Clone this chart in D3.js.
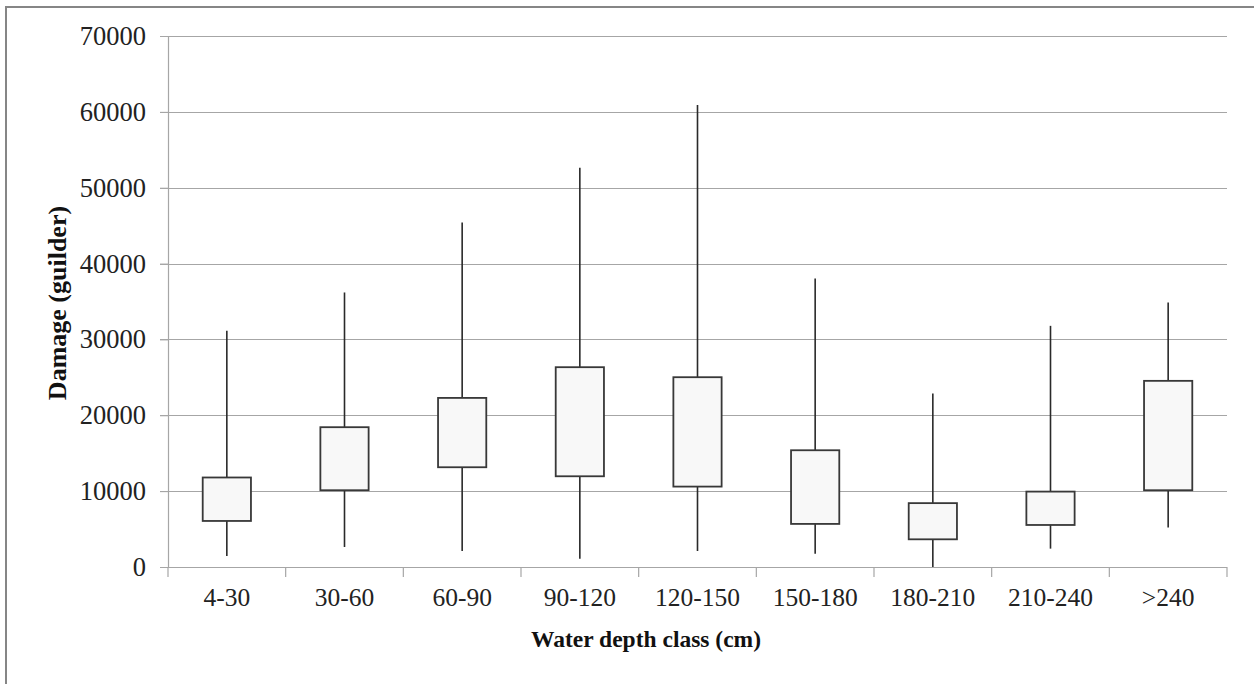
<!DOCTYPE html>
<html lang="en">
<head>
    <title>Damage by water depth class</title>
    <style>
        html, body {margin: 0;padding: 0;background-color: #fff;}
        svg {display: block;font-family: "Liberation Serif", "Times New Roman", serif;}
        .tick text {font-size: 26.5px;fill: #222;}
    </style>
</head>
<body>
<div id="chart"></div>
<script src="https://cdnjs.cloudflare.com/ajax/libs/d3/7.8.5/d3.min.js"></script>
<script>
  // depth classes and box statistics
  var categories = ['4-30', '30-60', '60-90', '90-120', '120-150', '150-180', '180-210', '210-240', '>240'];
  var whiskerLow = [1450, 2640, 2110, 1100, 2110, 1760, 0, 2420, 5200];
  var boxLow = [6070, 10120, 13150, 11960, 10600, 5680, 3650, 5540, 10120];
  var boxHigh = [11800, 18430, 22290, 26340, 25020, 15390, 8420, 9940, 24540];
  var whiskerHigh = [31130, 36190, 45400, 52630, 60900, 38040, 22870, 31790, 34880];
  var yTicks = [0, 10000, 20000, 30000, 40000, 50000, 60000, 70000];

  var width = 1254, height = 684;
  var margin = {top: 36, right: 27, bottom: 117, left: 168};

  var rows = categories.map(function (c, i) {
    return {cat: c, lo: whiskerLow[i], q1: boxLow[i], q3: boxHigh[i], hi: whiskerHigh[i]};
  });

  var svg = d3.select('#chart').append('svg')
    .attr('width', width)
    .attr('height', height);

  // outer frame, only its left and top edges fall inside the picture
  svg.append('rect')
    .attr('x', 6).attr('y', 7)
    .attr('width', 1400).attr('height', 800)
    .attr('fill', 'none')
    .attr('stroke', '#868686')
    .attr('stroke-width', 2);

  var x = d3.scaleBand()
    .domain(categories)
    .range([margin.left, width - margin.right]);

  var y = d3.scaleLinear()
    .domain([0, 70000])
    .range([height - margin.bottom, margin.top]);

  // gridlines
  svg.append('g')
    .selectAll('line')
    .data(yTicks)
    .join('line')
    .attr('x1', margin.left - 8)
    .attr('x2', width - margin.right)
    .attr('y1', function (d) { return Math.round(y(d)) + 0.5; })
    .attr('y2', function (d) { return Math.round(y(d)) + 0.5; })
    .attr('stroke', '#a6a6a6')
    .attr('stroke-width', 1.2);

  var yAxis = svg.append('g')
    .attr('transform', 'translate(' + margin.left + ',0)')
    .call(d3.axisLeft(y).tickValues(yTicks).tickFormat(d3.format('d')).tickSize(8).tickPadding(14));
  yAxis.attr('font-family', null).attr('font-size', null);
  yAxis.select('.domain').attr('stroke', '#a6a6a6').attr('stroke-width', 1.2);
  yAxis.selectAll('.tick line').attr('stroke', '#a6a6a6');

  // x axis: ticks sit on the category boundaries
  var bounds = categories.map(function (c) { return x(c); }).concat([width - margin.right]);
  svg.append('g')
    .selectAll('line')
    .data(bounds)
    .join('line')
    .attr('x1', function (d) { return d; })
    .attr('x2', function (d) { return d; })
    .attr('y1', y(0))
    .attr('y2', y(0) + 10)
    .attr('stroke', '#a6a6a6')
    .attr('stroke-width', 1.2);

  svg.append('g')
    .selectAll('text')
    .data(categories)
    .join('text')
    .attr('x', function (d) { return x(d) + x.bandwidth() / 2; })
    .attr('y', y(0) + 39)
    .attr('text-anchor', 'middle')
    .attr('font-size', 25.5)
    .attr('fill', '#222')
    .text(function (d) { return d; });

  // boxes
  var boxW = x.bandwidth() * 0.41;
  var g = svg.append('g');

  g.selectAll('line.whisker')
    .data(rows)
    .join('line')
    .attr('class', 'whisker')
    .attr('x1', function (d) { return x(d.cat) + x.bandwidth() / 2; })
    .attr('x2', function (d) { return x(d.cat) + x.bandwidth() / 2; })
    .attr('y1', function (d) { return y(d.lo); })
    .attr('y2', function (d) { return y(d.hi); })
    .attr('stroke', '#2a2a2a')
    .attr('stroke-width', 1.6);

  g.selectAll('rect.box')
    .data(rows)
    .join('rect')
    .attr('class', 'box')
    .attr('x', function (d) { return x(d.cat) + (x.bandwidth() - boxW) / 2; })
    .attr('width', boxW)
    .attr('y', function (d) { return y(d.q3); })
    .attr('height', function (d) { return y(d.q1) - y(d.q3); })
    .attr('fill', '#f8f8f8')
    .attr('stroke', '#383838')
    .attr('stroke-width', 1.8);

  // axis titles
  svg.append('text')
    .attr('x', 646)
    .attr('y', 647)
    .attr('text-anchor', 'middle')
    .attr('font-size', 23.5)
    .attr('font-weight', 'bold')
    .attr('fill', '#111')
    .text('Water depth class (cm)');

  svg.append('text')
    .attr('transform', 'translate(66,303) rotate(-90)')
    .attr('text-anchor', 'middle')
    .attr('font-size', 26)
    .attr('font-weight', 'bold')
    .attr('fill', '#111')
    .text('Damage (guilder)');
</script>
</body>
</html>
